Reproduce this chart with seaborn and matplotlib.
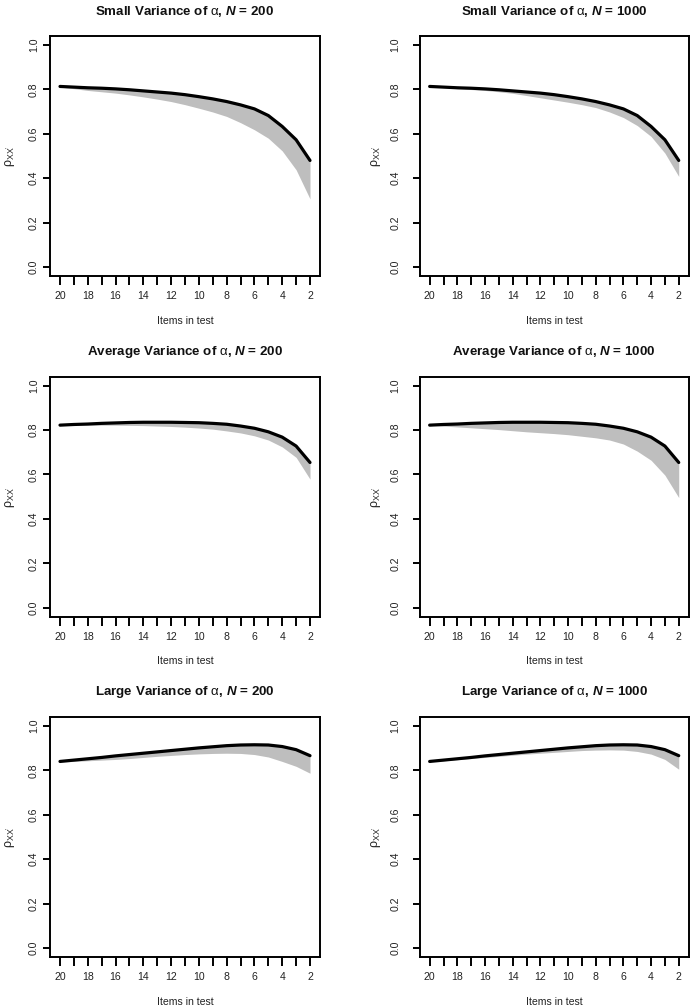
import numpy as np
import pandas as pd
import matplotlib
matplotlib.use("Agg")
import matplotlib.pyplot as plt
import seaborn as sns
from matplotlib.ticker import FixedLocator

# ---------------- data ----------------
items = list(range(20, 1, -1))  # 20 .. 2

small_true = [0.813, 0.810, 0.807, 0.805, 0.802, 0.798, 0.793, 0.788, 0.783, 0.776,
              0.767, 0.757, 0.745, 0.730, 0.712, 0.682, 0.633, 0.573, 0.480]
small_low_200 = [0.810, 0.803, 0.795, 0.789, 0.783, 0.775, 0.766, 0.756, 0.745, 0.731,
                 0.715, 0.698, 0.678, 0.650, 0.618, 0.580, 0.523, 0.438, 0.307]
small_low_1000 = [0.812, 0.808, 0.803, 0.799, 0.795, 0.789, 0.782, 0.772, 0.762, 0.752,
                  0.742, 0.731, 0.718, 0.698, 0.673, 0.637, 0.588, 0.513, 0.408]

avg_true = [0.822, 0.825, 0.827, 0.830, 0.832, 0.834, 0.835, 0.835, 0.835, 0.834,
            0.833, 0.830, 0.826, 0.818, 0.808, 0.792, 0.768, 0.728, 0.654]
avg_low_200 = [0.821, 0.822, 0.822, 0.822, 0.822, 0.821, 0.820, 0.818, 0.816, 0.813,
               0.809, 0.804, 0.796, 0.787, 0.774, 0.755, 0.724, 0.677, 0.579]
avg_low_1000 = [0.821, 0.818, 0.814, 0.810, 0.806, 0.802, 0.797, 0.792, 0.788, 0.784,
                0.779, 0.772, 0.765, 0.755, 0.737, 0.705, 0.664, 0.597, 0.496]

large_true = [0.840, 0.846, 0.852, 0.858, 0.865, 0.871, 0.877, 0.883, 0.889, 0.895,
              0.901, 0.906, 0.911, 0.914, 0.915, 0.914, 0.907, 0.893, 0.866]
large_low_200 = [0.838, 0.840, 0.843, 0.846, 0.849, 0.853, 0.858, 0.863, 0.867, 0.871,
                 0.874, 0.876, 0.877, 0.876, 0.871, 0.860, 0.840, 0.818, 0.787]
large_low_1000 = [0.839, 0.843, 0.848, 0.853, 0.858, 0.863, 0.868, 0.873, 0.877, 0.881,
                  0.885, 0.889, 0.891, 0.892, 0.891, 0.885, 0.873, 0.849, 0.805]

variance_labels = ["Small", "Average", "Large"]
sample_sizes = [200, 1000]
true_series = [small_true, avg_true, large_true]
low_series = [[small_low_200, small_low_1000],
              [avg_low_200, avg_low_1000],
              [large_low_200, large_low_1000]]

x_tick_labels = [20, 18, 16, 14, 12, 10, 8, 6, 4, 2]
y_tick_values = [0.0, 0.2, 0.4, 0.6, 0.8, 1.0]

# ---------------- style ----------------
sns.set_style("ticks")
plt.rcParams['font.family'] = ['Liberation Sans', 'DejaVu Sans']
plt.rcParams['mathtext.fontset'] = 'custom'
plt.rcParams['mathtext.rm'] = 'Liberation Sans'
plt.rcParams['mathtext.it'] = 'Liberation Sans:italic:bold'
plt.rcParams['mathtext.bf'] = 'Liberation Sans:bold'

W, H = 694, 1008
fig = plt.figure(figsize=(W / 100, H / 100), dpi=100)

col_left = [50, 419.7]
col_width = [270, 269]
row_top = [36, 376.7, 717]
row_h = 240

ytick_pad = [2.9, 9.0]
ylabel_x = [-0.148, -0.163]

for r in range(3):
    for c in range(2):
        ax = fig.add_axes([col_left[c] / W, 1 - (row_top[r] + row_h) / H,
                           col_width[c] / W, row_h / H])
        df = pd.DataFrame({"items": items, "true": true_series[r],
                           "low": low_series[r][c]})
        ax.fill_between(df["items"], df["low"], df["true"],
                        color="#BEBEBE", linewidth=0, zorder=1)
        sns.lineplot(data=df, x="items", y="true", ax=ax, color="black",
                     linewidth=2.3, zorder=3)

        ax.set_xlim(20.72, 1.28)
        ax.set_ylim(-0.04, 1.04)

        ax.xaxis.set_major_locator(FixedLocator(x_tick_labels))
        ax.xaxis.set_minor_locator(FixedLocator([v for v in items if v not in x_tick_labels]))
        ax.set_xticklabels([str(v) for v in x_tick_labels])
        ax.yaxis.set_major_locator(FixedLocator(y_tick_values))
        ax.set_yticklabels([f"{v:.1f}" for v in y_tick_values])
        ax.yaxis.set_minor_locator(FixedLocator([]))

        ax.tick_params(axis='x', which='both', direction='out', length=6.5,
                       width=1.4, color='black', labelsize=7.6, pad=4.5,
                       labelcolor='#222222')
        ax.tick_params(axis='y', which='both', direction='out', length=5,
                       width=1.4, color='black', labelsize=7.6, pad=ytick_pad[c],
                       labelcolor='#222222')
        for lab in ax.get_yticklabels():
            lab.set_rotation(90)
            lab.set_va('center')

        for sp in ax.spines.values():
            sp.set_visible(True)
            sp.set_linewidth(1.4)
            sp.set_color('black')

        ax.set_xlabel("Items in test", fontsize=7.6, color='#222222')
        ax.xaxis.set_label_coords(0.5, -0.186)
        ax.xaxis.label.set_va('center')
        ax.set_ylabel(r"$\mathrm{\rho}_{\mathrm{XX'}}$", fontsize=9, color='#222222')
        ax.yaxis.set_label_coords(ylabel_x[c], 0.5)
        ax.yaxis.label.set_va('center')

        title = (f"{variance_labels[r]} Variance of " + r"$\mathrm{\alpha}$, $N$"
                 + f" = {sample_sizes[c]}")
        ax.text(0.5, 1.104, title, transform=ax.transAxes, ha='center',
                va='center', fontsize=9.6, fontweight='bold', color='#111111')

fig.savefig("out.png", dpi=100)
